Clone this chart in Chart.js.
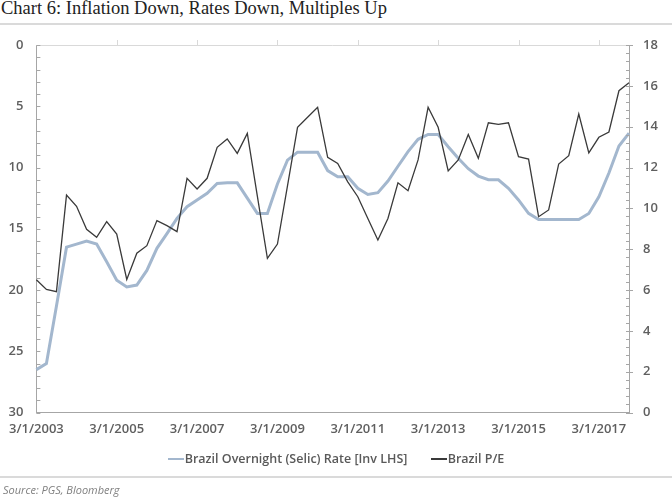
<!DOCTYPE html>
<html>
<head>
<meta charset="utf-8">
<script src="https://cdn.jsdelivr.net/npm/chart.js@4.4.0/dist/chart.umd.min.js"></script>
<style>
  body { margin: 0; width: 672px; height: 503px; background: #fff; position: relative; overflow: hidden; font-family: 'Open Sans', sans-serif; }
  #title { position: absolute; left: 1px; top: -2px; font-family: 'Liberation Serif', serif; font-size: 18.5px; color: #222; white-space: nowrap; }
  .rule { position: absolute; left: 0; width: 672px; height: 2px; background: #dadada; }
  #chart { position: absolute; left: 0; top: 0; }
  #legend { position: absolute; top: 450px; left: 0; width: 672px; text-align: center; font-size: 12.5px; font-weight: 600; color: #595959; white-space: nowrap; }
  #legend span.item { display: inline-block; margin: 0 10px; }
  #legend i { display: inline-block; width: 16px; height: 2px; vertical-align: middle; margin-right: 1px; position: relative; top: -1px; }
  #source { position: absolute; left: 3px; top: 482px; font-size: 11px; font-style: italic; color: #7f7f7f; }
</style>
</head>
<body>
<div id="title">Chart 6: Inflation Down, Rates Down, Multiples Up</div>
<div class="rule" style="top:23px"></div>
<canvas id="chart" width="672" height="503"></canvas>
<div id="legend">
  <span class="item"><i style="background:#a3b7ce"></i>Brazil Overnight (Selic) Rate [Inv LHS]</span>
  <span class="item"><i style="background:#3a3a3a"></i>Brazil P/E</span>
</div>
<div class="rule" style="top:476px"></div>
<div id="source">Source: PGS, Bloomberg</div>

<script>
// quarterly dates, Mar 2003 .. Dec 2017
const quarters = [
  '3/1/2003','6/1/2003','9/1/2003','12/1/2003','3/1/2004','6/1/2004','9/1/2004','12/1/2004',
  '3/1/2005','6/1/2005','9/1/2005','12/1/2005','3/1/2006','6/1/2006','9/1/2006','12/1/2006',
  '3/1/2007','6/1/2007','9/1/2007','12/1/2007','3/1/2008','6/1/2008','9/1/2008','12/1/2008',
  '3/1/2009','6/1/2009','9/1/2009','12/1/2009','3/1/2010','6/1/2010','9/1/2010','12/1/2010',
  '3/1/2011','6/1/2011','9/1/2011','12/1/2011','3/1/2012','6/1/2012','9/1/2012','12/1/2012',
  '3/1/2013','6/1/2013','9/1/2013','12/1/2013','3/1/2014','6/1/2014','9/1/2014','12/1/2014',
  '3/1/2015','6/1/2015','9/1/2015','12/1/2015','3/1/2016','6/1/2016','9/1/2016','12/1/2016',
  '3/1/2017','6/1/2017','9/1/2017','12/1/2017'
];

// Selic rate (%), plotted on inverted left axis
const selic = [
  26.5, 26.0, 21.3, 16.5, 16.25, 16.0, 16.25, 17.7,
  19.2, 19.75, 19.6, 18.4, 16.6, 15.4, 14.15, 13.2,
  12.65, 12.1, 11.3, 11.25, 11.25, 12.5, 13.75, 13.75,
  11.35, 9.4, 8.75, 8.75, 8.75, 10.25, 10.75, 10.75,
  11.7, 12.2, 12.05, 11.1, 9.9, 8.7, 7.7, 7.3,
  7.3, 8.3, 9.25, 10.1, 10.7, 11.0, 11.0, 11.7,
  12.65, 13.74, 14.25, 14.25, 14.25, 14.25, 14.25, 13.75,
  12.4, 10.45, 8.25, 7.2
];

// Brazil P/E, right axis
const brazilPE = [
  6.5, 6.03, 5.92, 10.65, 10.1, 8.97, 8.58, 9.35,
  8.74, 6.52, 7.8, 8.17, 9.4, 9.15, 8.86, 11.47,
  10.95, 11.47, 12.99, 13.4, 12.69, 13.67, 10.6, 7.55,
  8.25, 11.1, 13.97, 14.46, 14.95, 12.5, 12.2, 11.3,
  10.57, 9.5, 8.45, 9.5, 11.25, 10.86, 12.37, 14.95,
  13.97, 11.83, 12.37, 13.62, 12.45, 14.19, 14.11, 14.19,
  12.53, 12.41, 9.59, 9.92, 12.17, 12.58, 14.62, 12.72,
  13.48, 13.74, 15.76, 16.15
];

const axisGrey = '#a6a6a6';
const tickFont = { family: 'Open Sans', size: 13, weight: '600' };
const tickColor = '#5f5f5f';

// minor tick marks + light top axis line
const axisDecor = {
  id: 'axisDecor',
  afterDraw(chart) {
    const { ctx, chartArea: a, scales } = chart;
    ctx.save();
    ctx.lineWidth = 1;

    ctx.strokeStyle = '#d9d9d9';
    ctx.beginPath();
    ctx.moveTo(a.left, a.top + 0.5);
    ctx.lineTo(a.right, a.top + 0.5);
    quarters.forEach((q, i) => {
      if (i > 0 && i % 8 === 0) {
        const x = Math.round(scales.x.getPixelForTick(i)) + 0.5;
        ctx.moveTo(x, a.top);
        ctx.lineTo(x, a.top - 5);
      }
    });
    ctx.stroke();

    ctx.strokeStyle = axisGrey;
    ctx.beginPath();
    for (let v = 0; v <= 30; v++) {
      const y = Math.round(scales.yL.getPixelForValue(v)) + 0.5;
      ctx.moveTo(a.left, y);
      ctx.lineTo(a.left + 4, y);
    }
    for (let k = 0; k <= 45; k++) {
      const y = Math.round(scales.yR.getPixelForValue(k * 0.4)) + 0.5;
      ctx.moveTo(a.right - 3, y);
      ctx.lineTo(k % 5 === 0 ? a.right + 4 : a.right, y);
    }
    ctx.stroke();
    ctx.restore();
  }
};

new Chart(document.getElementById('chart'), {
  type: 'line',
  data: {
    labels: quarters,
    datasets: [
      {
        label: 'Brazil P/E',
        data: brazilPE,
        yAxisID: 'yR',
        borderColor: '#3a3a3a',
        borderWidth: 1.3,
        pointRadius: 0,
        tension: 0,
        order: 0
      },
      {
        label: 'Brazil Overnight (Selic) Rate [Inv LHS]',
        data: selic,
        yAxisID: 'yL',
        borderColor: '#a3b7ce',
        borderWidth: 3,
        pointRadius: 0,
        tension: 0,
        order: 1
      }
    ]
  },
  options: {
    responsive: false,
    animation: false,
    layout: { padding: { top: 45, left: 0, right: 0, bottom: 0 } },
    plugins: { legend: { display: false }, tooltip: { enabled: false } },
    scales: {
      x: {
        offset: false,
        grid: { display: false, drawTicks: false },
        border: { display: true, color: axisGrey },
        ticks: {
          autoSkip: false, maxRotation: 0, padding: 9,
          color: tickColor, font: tickFont,
          callback: (v, i) => (i % 8 === 0 ? quarters[i] : '')
        },
        afterFit: s => { s.height = 90.5; }
      },
      yL: {
        position: 'left',
        reverse: true,
        min: 0, max: 30,
        grid: { display: false, drawTicks: false },
        border: { display: true, color: axisGrey },
        ticks: { stepSize: 5, padding: 13, color: tickColor, font: tickFont },
        afterFit: s => { s.width = 35; }
      },
      yR: {
        position: 'right',
        min: 0, max: 18,
        grid: { display: false, drawTicks: false },
        border: { display: true, color: axisGrey },
        ticks: { stepSize: 2, padding: 14, color: tickColor, font: tickFont },
        afterFit: s => { s.width = 43; }
      }
    }
  },
  plugins: [axisDecor]
});
</script>
</body>
</html>
